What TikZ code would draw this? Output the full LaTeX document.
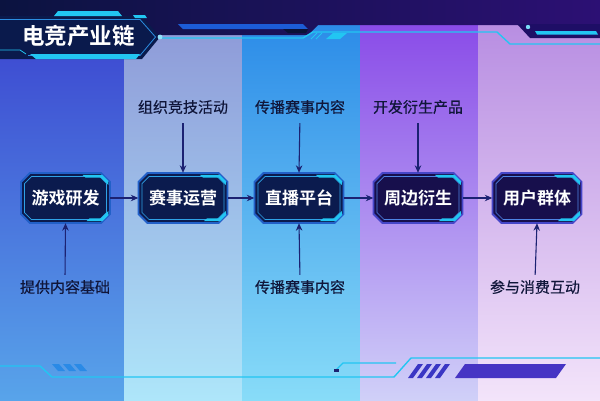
\documentclass[tikz,border=0pt]{standalone}
\usepackage{fontspec}
\setmainfont{Noto Sans CJK SC}[BoldFont={* Bold}]
\newfontfamily\labfont{Noto Sans CJK SC}[FakeBold=0.35]
\usetikzlibrary{arrows.meta}
\definecolor{arrc}{HTML}{1C2272}
\definecolor{labc}{HTML}{10163A}
\definecolor{cyanl}{HTML}{22C6F2}
\definecolor{navyA}{HTML}{0B1B4E}
\definecolor{navyB}{HTML}{170F4C}
\definecolor{bordA}{HTML}{2260C8}
\definecolor{bordB}{HTML}{4646C8}
\definecolor{innA}{HTML}{2FA2E6}
\definecolor{innB}{HTML}{4E84E4}
\definecolor{c1t}{HTML}{3C46D0}\definecolor{c1b}{HTML}{58A4EA}
\definecolor{c2t}{HTML}{8E9AD8}\definecolor{c2b}{HTML}{AEE6FA}
\definecolor{c3t}{HTML}{2C8CE8}\definecolor{c3b}{HTML}{88DCF8}
\definecolor{c4t}{HTML}{8A4CE8}\definecolor{c4b}{HTML}{D0D0F8}
\definecolor{c5t}{HTML}{B88EE2}\definecolor{c5b}{HTML}{F3E4FA}
\definecolor{bandL}{HTML}{0B1340}\definecolor{bandR}{HTML}{2C1074}
\definecolor{tabR}{HTML}{1E0E66}
\definecolor{trimB}{HTML}{1C5CD6}
\definecolor{notch}{HTML}{0A1238}
\definecolor{titlef}{HTML}{0A1A4C}
\definecolor{titleo}{HTML}{2C8CE0}
\definecolor{stripeB}{HTML}{2A8AE6}
\definecolor{indi}{HTML}{3A36C4}
\definecolor{indbar}{HTML}{4634C4}
\tikzset{
  stagebox/.style={rectangle, minimum width=89pt, minimum height=50pt, inner sep=0pt,
    text=white, font=\bfseries\fontsize{17}{20}\selectfont},
  lab/.style={text=labc, font=\labfont\fontsize{15}{18}\selectfont, inner sep=1pt},
  arr/.style={draw=arrc, line width=1.1pt, -{Stealth[length=7.5pt,width=6.5pt]}},
  deco/.style={draw=cyanl, line width=1.4pt},
}
% #1 name, #2 x, #3 y, #4 text, #5 fill, #6 border, #7 inner
\newcommand{\stage}[7]{%
  \begin{scope}[shift={(#2,#3)}]
  \filldraw[fill=#5, draw=#6, line width=1.8pt] (-35.5,-25) -- (35.5,-25) -- (44.5,-16) -- (44.5,16)
    -- (35.5,25) -- (-35.5,25) -- (-44.5,16) -- (-44.5,-16) -- cycle;
  \draw[#7, line width=0.7pt] (-34,-21.5) -- (34,-21.5) -- (41,-14.5) -- (41,14.5)
    -- (34,21.5) -- (-34,21.5) -- (-41,14.5) -- (-41,-14.5) -- cycle;
  \fill[cyanl] (17,-23.2) -- (36.8,-23.2) -- (42.8,-17.2) -- (42.8,-13) -- (35.5,-20.3) -- (20,-20.3) -- cycle;
  \fill[cyanl] (21,23.2) -- (36.8,23.2) -- (42.8,17.2) -- (42.8,13) -- (35.5,20.3) -- (24,20.3) -- cycle;
  \end{scope}
  \node[stagebox] (#1) at (#2,#3) {#4};
}
\begin{document}
\begin{tikzpicture}[x=1pt,y=-1pt]
\useasboundingbox (0,0) rectangle (600,400);
% columns
\shade[top color=c1t, bottom color=c1b] (0,25) rectangle (124,400);
\shade[top color=c2t, bottom color=c2b] (124,25) rectangle (242,400);
\shade[top color=c3t, bottom color=c3b] (242,25) rectangle (360,400);
\shade[top color=c4t, bottom color=c4b] (360,25) rectangle (478,400);
\shade[top color=c5t, bottom color=c5b] (478,25) rectangle (600,400);
% top dark band
\shade[left color=bandL, right color=bandR] (0,0) -- (600,0) -- (600,25) -- (318,25) -- (308,35) -- (0,35) -- cycle;
\fill[tabR] (517,24) -- (600,24) -- (600,38) -- (530,38) -- cycle;
\fill[cyanl] (535,31) -- (596,31) -- (598,34.5) -- (537,34.5) -- cycle;
\fill[cyanl!60!white] (528,27) circle (2.2);
\fill[trimB] (178,24) -- (303,24) -- (308,29) -- (183,29) -- cycle;
\fill[notch] (283,29) -- (308,29) -- (306,33) -- (288,33) -- cycle;
\draw[deco] (160,38) -- (303,38) -- (313,32) -- (497,32) -- (510,44) -- (600,44);
\fill[cyanl] (326,39) -- (333,33) -- (347,33) -- (340,39) -- cycle;
\draw[cyanl, line width=1pt] (311,39) -- (317,33) (316,39) -- (322,33);
% title
\fill[titlef] (0,16) -- (142,16) -- (160,37) -- (142,59) -- (0,59) -- cycle;
\draw[titleo, line width=0.8pt] (0,19.5) -- (140,19.5) -- (155.5,37) -- (140,55.5) -- (28,55.5);
\fill[cyanl] (58,11) -- (118,11) -- (122,16) -- (54,16) -- cycle;
\fill[cyanl] (133,15) -- (145,15) -- (147,18) -- (135,18) -- cycle;
\draw[cyanl, line width=0.8pt] (0,50) -- (20,50) -- (26,54);
\fill[cyanl] (30,54) -- (140,54) -- (136,59) -- (36,59) -- cycle;
\fill[cyanl!50!white] (160,37) circle (2.4);
\node[text=white, font=\bfseries\fontsize{22.5}{26}\selectfont] (title) at (78.5,36) {电竞产业链};
% stage boxes
\stage{b1}{65.5}{198}{游戏研发}{navyA}{bordA}{innA}
\stage{b2}{183}{198}{赛事运营}{navyA}{bordA}{innA}
\stage{b3}{299}{198}{直播平台}{navyA}{bordA}{innA}
\stage{b4}{418}{198}{周边衍生}{navyB}{bordB}{innB}
\stage{b5}{537}{198}{用户群体}{navyB}{bordB}{innB}
% horizontal arrows
\draw[arr] (b1.east) -- (b2.west);
\draw[arr] (b2.east) -- (b3.west);
\draw[arr] (b3.east) -- (b4.west);
\draw[arr] (b4.east) -- (b5.west);
% top labels
\node[lab] (t2) at (183,107) {组织竞技活动};
\node[lab] (t3) at (300,107) {传播赛事内容};
\node[lab] (t4) at (418,107) {开发衍生产品};
\draw[arr, shorten <=8pt] (t2.south) -- (b2.north);
\draw[arr, shorten <=8pt] (t3.south) -- (b3.north);
\draw[arr, shorten <=8pt] (t4.south) -- (b4.north);
% bottom labels
\node[lab] (u1) at (65,287) {提供内容基础};
\node[lab] (u3) at (300,287) {传播赛事内容};
\node[lab] (u5) at (535,287) {参与消费互动};
\draw[arr, shorten <=4pt] (u1.north) -- (b1.south);
\draw[arr, shorten <=4pt] (u3.north) -- (b3.south);
\draw[arr, shorten <=4pt] (u5.north) -- (b5.south);
% bottom decoration
\draw[deco] (0,366) -- (40,366) -- (52,377) -- (394,377) -- (411,358) -- (600,358);
\foreach \x in {52,63,74}{\fill[stripeB] (\x,364) -- (\x+7,364) -- (\x+13,371) -- (\x+6,371) -- cycle;}
\draw[cyanl, line width=1.2pt] (336,370) -- (343,363) -- (396,363);
\fill[arrc] (334,369) rectangle (339,372);
\foreach \x in {418,427,436,445}{\fill[indi] (\x,364) -- (\x+5,364) -- (\x-5,378) -- (\x-10,378) -- cycle;}
\fill[indbar] (465,364) -- (566,364) -- (556,378) -- (455,378) -- cycle;
\end{tikzpicture}
\end{document}
